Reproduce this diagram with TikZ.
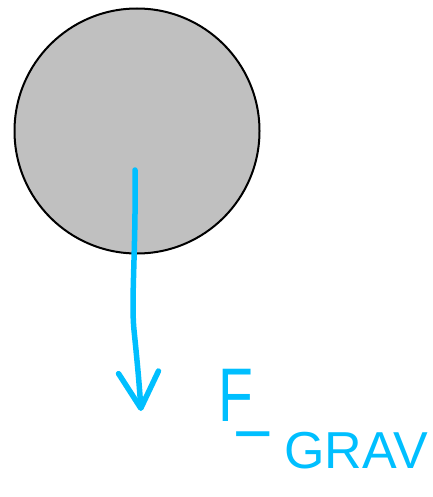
\documentclass[tikz,border=0pt]{standalone}
\usepackage{fontspec}
\setmainfont{Liberation Sans}
\usetikzlibrary{arrows.meta,positioning,calc}
\definecolor{Ball}{HTML}{C0C0C0}
\definecolor{Pen}{HTML}{00BFFF}
\tikzset{
 ball/.style={circle,draw=black,fill=Ball,line width=2pt,minimum size=245pt,inner sep=0pt},
 pen/.style={draw=Pen,line width=5.5pt,line cap=round,line join=round},
 force/.style={pen,-{Straight Barb[length=36pt,width=40pt,round]}},
 hand/.style={text=Pen,inner sep=0pt,font=\fontsize{#1}{#1}\selectfont}
}
\begin{document}
\begin{tikzpicture}[x=1pt,y=-1pt]
\useasboundingbox (0,0) rectangle (432,497);
\node[ball] (b) at (137,131) {};
\coordinate (tail) at (135,170);
\coordinate (tip) at (141,411);
\draw[force] (tail) .. controls (136,250) and (131,300) .. (134,330) .. controls (137,360) and (139,380) .. (tip);
\node[hand=76,xscale=0.75,anchor=base west] (f) at (218,421) {F\kern-20pt\_};
\node[hand=52,anchor=base west] (grav) at (284,468) {GRAV};
\end{tikzpicture}
\end{document}
